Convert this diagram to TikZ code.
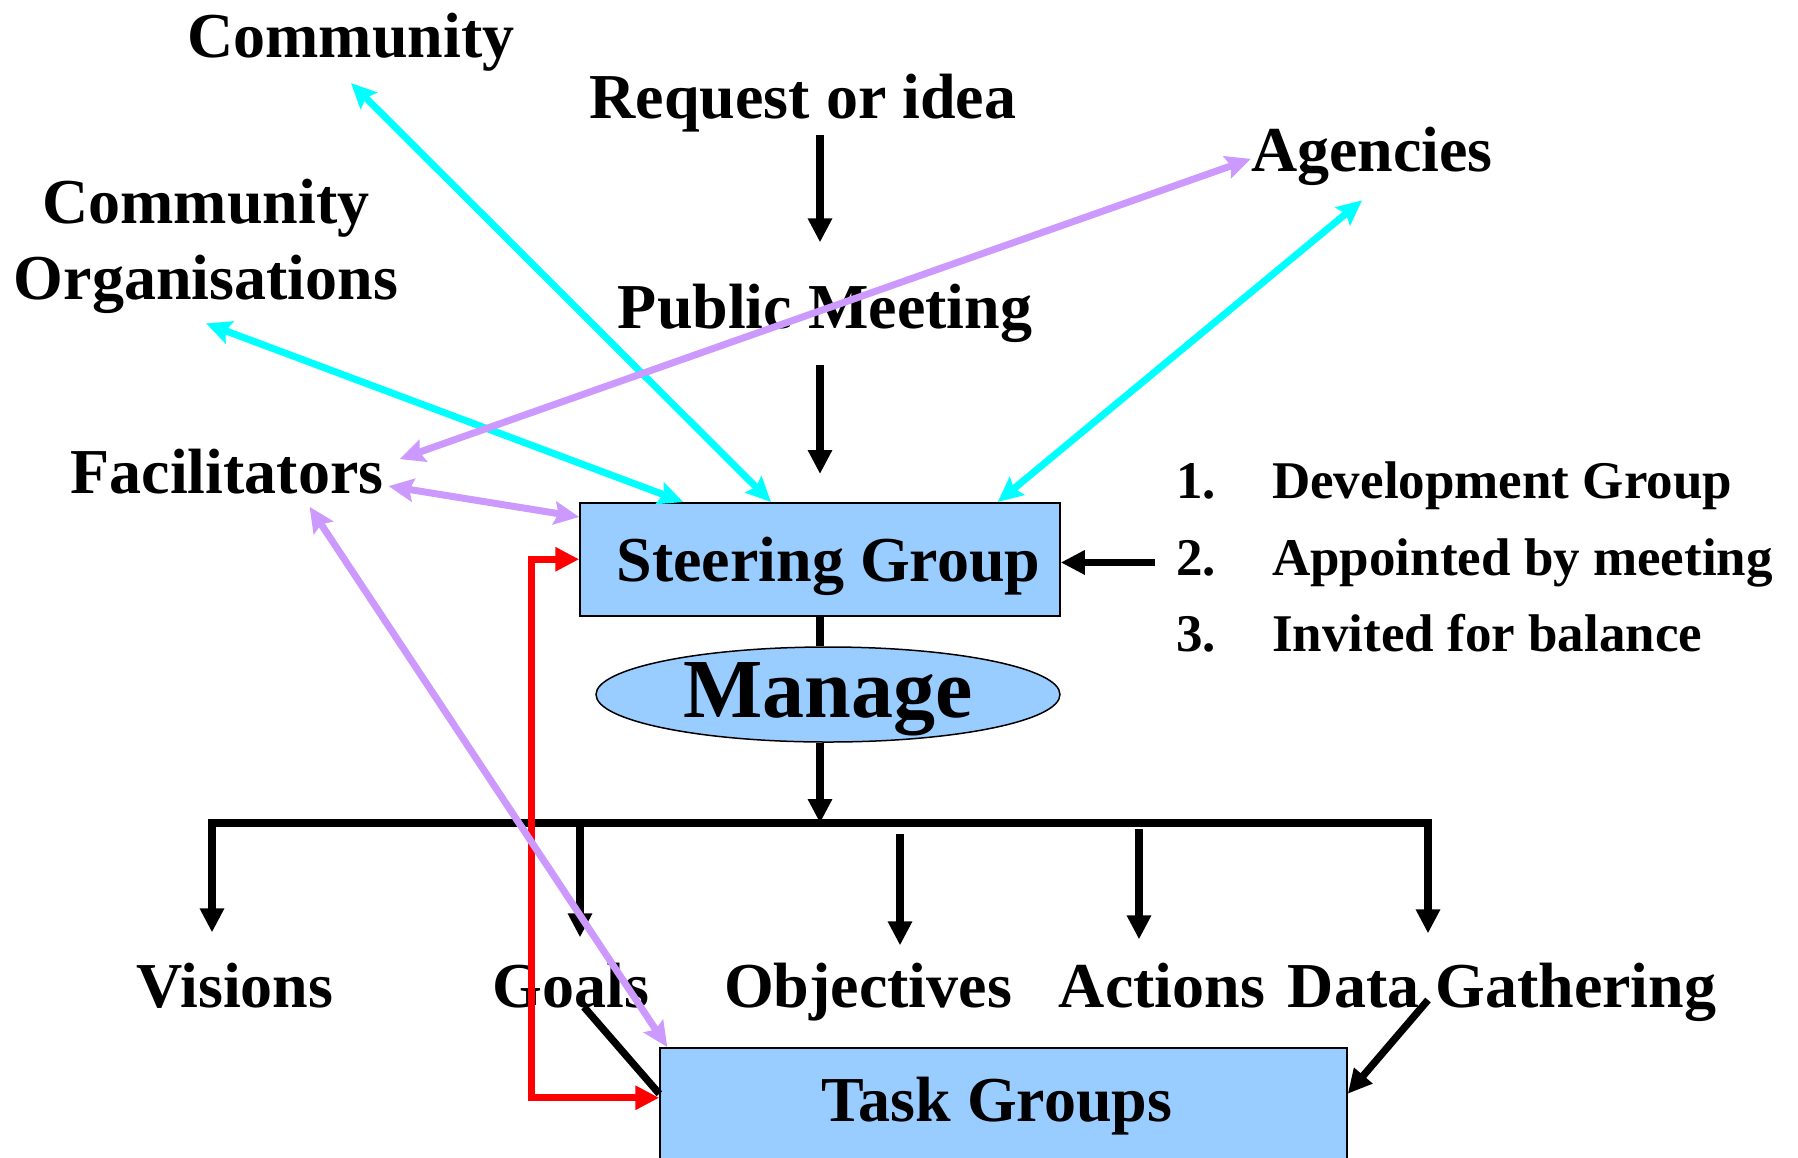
\documentclass[tikz,border=0pt]{standalone}
\usepackage{fontspec}
\setmainfont{Liberation Serif}
\usetikzlibrary{arrows.meta,shapes.geometric}

\definecolor{boxblue}{HTML}{99CCFF}
\definecolor{linkcyan}{HTML}{00FFFF}
\definecolor{linkpurple}{HTML}{CC99FF}

\tikzset{
    txt/.style = {font = \fontsize{64}{76}\selectfont\bfseries, inner sep = 0pt, anchor = base},
    listtxt/.style = {font = \fontsize{53}{60}\selectfont\bfseries, inner sep = 0pt, anchor = base west},
    box/.style = {draw, fill = boxblue, line width = 1.5pt, inner sep = 0pt, anchor = north,
        font = \fontsize{64}{76}\selectfont\bfseries},
    flow/.style = {line width = 7.3pt, -{Triangle[length = 24pt, width = 23pt]}},
    back/.style = {line width = 7.3pt, red, {Triangle[length = 24pt, width = 23pt]}-{Triangle[length = 24pt, width = 23pt]}},
    reach/.style = {line width = 7pt, linkcyan,
        {Stealth[length = 25pt, width = 23pt, inset = 4pt]}-{Stealth[length = 25pt, width = 23pt, inset = 4pt]}},
    assist/.style = {line width = 7pt, linkpurple,
        {Stealth[length = 25pt, width = 23pt, inset = 4pt]}-{Stealth[length = 25pt, width = 23pt, inset = 4pt]}}
}

\begin{document}
\begin{tikzpicture}[x = 1pt, y = -1pt]
    \useasboundingbox (0,0) rectangle (1798,1157);

    % who takes part
    \node[txt] (comm) at (351,57) {Community};
    \node[txt] (req) at (803,118) {Request or idea};
    \node[txt] (agen) at (1372,171) {Agencies};
    \node[txt, anchor = center, align = center] (corg) at (206,246) {Community\\Organisations};
    \node[txt] (pub) at (825,328) {Public Meeting};
    \node[txt] (fac) at (227,493) {Facilitators};

    % steering group and how it is made up
    \node[box, minimum width = 480pt, text height = 79pt, text depth = 34pt] (sg) at (820,502) {\hspace*{17pt}Steering Group};
    \node[listtxt] (dev) at (1176,498) {\makebox[96pt][l]{1.}Development Group};
    \node[listtxt] (app) at (1176,575) {\makebox[96pt][l]{2.}Appointed by meeting};
    \node[listtxt] (inv) at (1176,651) {\makebox[96pt][l]{3.}Invited for balance};
    \node[ellipse, draw, fill = boxblue, line width = 1.5pt, inner sep = 0pt,
        minimum width = 464pt, minimum height = 95pt, text height = 55pt, text depth = 10pt,
        font = \fontsize{84}{90}\selectfont\bfseries] (mng) at (828,694.5) {Manage};

    % what gets managed
    \coordinate (barL) at (212,823);
    \coordinate (barR) at (1428,823);
    \node[txt] (vis) at (235,1007) {Visions};
    \node[txt] (goal) at (571,1007) {Goals};
    \node[txt] (obj) at (868,1007) {Objectives};
    \node[txt] (act) at (1162,1007) {Actions};
    \node[txt] (data) at (1502,1007) {Data Gathering};
    \node[box, minimum width = 687pt, text height = 74pt, text depth = 40pt] (tg) at (1003.5,1047) {Task Groups\hspace*{13pt}};

    % main line down
    \draw[flow, shorten <= 3pt, shorten >= 41pt] (req.south -| sg.north) -- (pub.north -| sg.north);
    \draw[flow, shorten <= 23pt, shorten >= 28pt] (pub.south -| sg.north) -- (sg.north);
    \draw[line width = 7.3pt] (sg.south) -- (sg.south |- mng.north);
    \draw[flow] (sg.south |- mng.south) -- (sg.south |- barL);
    \draw[line width = 7.3pt, line cap = rect] (barL) -- (barR);
    \foreach \n/\dx/\s/\t in {vis/-23/0/30, goal/9/0/25, obj/32/11/17, act/-23/6/23, data/-74/0/29}
        \draw[flow, shorten <= \s pt, shorten >= \t pt] ([xshift = \dx pt]\n.north |- barL) -- ([xshift = \dx pt]\n.north);
    \draw[flow, shorten <= 21pt] (app.west) -- (app.west -| sg.east);

    % into the task groups
    \draw[line width = 7.3pt] ([xshift = 13pt]goal.base) -- ([yshift = 11pt]tg.west);
    \draw[flow] ([xshift = -74pt, yshift = 7pt]data.base) -- ([yshift = 11pt]tg.east);
    \draw[back] (sg.west) -- ++(-48,0) |- ([yshift = 7pt]tg.west);

    % links out
    \draw[reach] ([yshift = -12pt]comm.south) -- ([xshift = -49pt]sg.north);
    \draw[reach] ([yshift = -10pt]corg.south) -- ([xshift = 104pt]sg.north west);
    \draw[reach] ([xshift = -10pt, yshift = -15pt]agen.south) -- ([xshift = -63pt]sg.north east);
    \draw[assist] ([xshift = 16pt, yshift = 12pt]fac.east) -- ([yshift = -3pt]agen.west);
    \draw[assist] ([xshift = 5pt, yshift = -15pt]fac.east) -- ([yshift = -15pt]sg.north west);
    \draw[assist] ([xshift = -74pt, yshift = -13pt]fac.south east) -- ([xshift = 8pt]tg.north west);
\end{tikzpicture}
\end{document}
